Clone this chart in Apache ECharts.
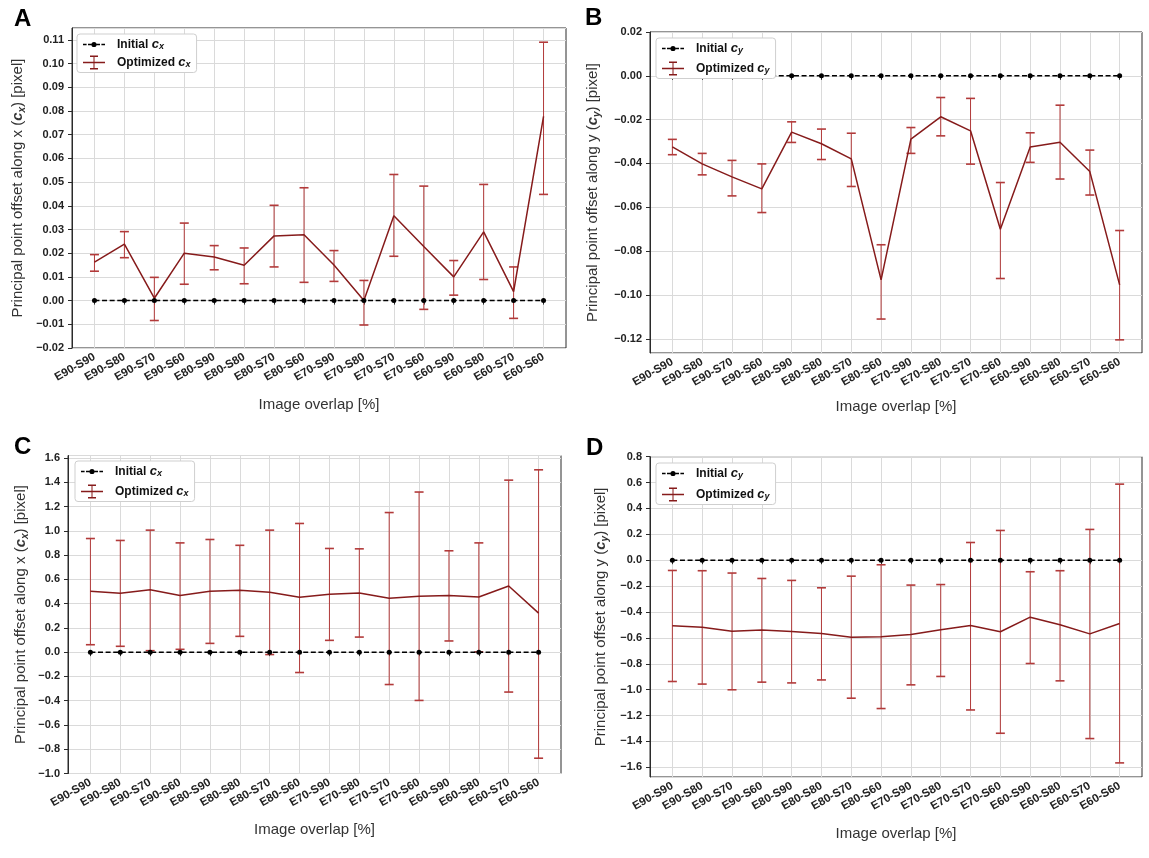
<!DOCTYPE html>
<html>
<head>
<meta charset="utf-8">
<script src="https://cdn.jsdelivr.net/npm/echarts@6/dist/echarts.min.js"></script>
<style>
html,body{margin:0;padding:0;background:#fff;}
#chart{width:1149px;height:858px;}
</style>
</head>
<body>
<div id="chart"></div>
<script>
// ---------- data ----------
const categories = ['E90-S90','E90-S80','E90-S70','E90-S60','E80-S90','E80-S80','E80-S70','E80-S60',
                    'E70-S90','E70-S80','E70-S70','E70-S60','E60-S90','E60-S80','E60-S70','E60-S60'];

const initialCx = [0,0,0,0,0,0,0,0,0,0,0,0,0,0,0,0];
const initialCy = [0,0,0,0,0,0,0,0,0,0,0,0,0,0,0,0];

// Panel A : optimized cx (small offsets)
const optCxA  = [0.0162,0.0238,0.0010,0.0200,0.0184,0.0149,0.0273,0.0278,0.0150,0.0000,0.0358,0.0228,0.0100,0.0290,0.0038,0.0777];
const lowCxA  = [0.0124,0.0181,-0.0084,0.0069,0.0130,0.0071,0.0142,0.0077,0.0081,-0.0103,0.0187,-0.0037,0.0023,0.0089,-0.0075,0.0448];
const highCxA = [0.0194,0.0291,0.0098,0.0327,0.0232,0.0222,0.0402,0.0476,0.0211,0.0085,0.0532,0.0483,0.0169,0.0490,0.0142,0.1090];

// Panel B : optimized cy (small offsets)
const optCyB  = [-0.0324,-0.0402,-0.0461,-0.0516,-0.0257,-0.0310,-0.0379,-0.0931,-0.0289,-0.0187,-0.0251,-0.0700,-0.0325,-0.0303,-0.0437,-0.0954];
const lowCyB  = [-0.0360,-0.0452,-0.0548,-0.0624,-0.0304,-0.0382,-0.0505,-0.1110,-0.0354,-0.0274,-0.0403,-0.0925,-0.0395,-0.0471,-0.0544,-0.1205];
const highCyB = [-0.0290,-0.0354,-0.0386,-0.0402,-0.0210,-0.0243,-0.0262,-0.0771,-0.0236,-0.0099,-0.0103,-0.0487,-0.0260,-0.0134,-0.0339,-0.0706];

// Panel C : optimized cx (large offsets)
const optCxC  = [0.501,0.485,0.513,0.466,0.501,0.510,0.493,0.452,0.477,0.488,0.444,0.460,0.467,0.454,0.545,0.321];
const lowCxC  = [0.061,0.048,0.012,0.023,0.072,0.130,-0.020,-0.168,0.097,0.124,-0.267,-0.398,0.092,0.002,-0.329,-0.874];
const highCxC = [0.936,0.920,1.005,0.900,0.928,0.880,1.005,1.060,0.854,0.851,1.150,1.319,0.835,0.900,1.417,1.502];

// Panel D : optimized cy (large offsets)
const optCyD  = [-0.507,-0.517,-0.548,-0.540,-0.551,-0.566,-0.595,-0.592,-0.574,-0.537,-0.504,-0.553,-0.440,-0.499,-0.569,-0.489];
const lowCyD  = [-0.937,-0.957,-1.001,-0.942,-0.948,-0.925,-1.066,-1.146,-0.963,-0.898,-1.157,-1.337,-0.798,-0.932,-1.378,-1.566];
const highCyD = [-0.079,-0.081,-0.099,-0.141,-0.156,-0.213,-0.123,-0.035,-0.192,-0.188,0.137,0.230,-0.089,-0.081,0.238,0.588];

// ---------- style ----------
const FONT = '"Liberation Sans", Arial, Helvetica, sans-serif';
const LINE_RED = '#861b1b';
const ERR_RED = '#b23a3a';
const GRID_GRAY = '#dadada';

const ICON_INIT = 'path://M0,6.3H3.6V7.7H0Z M5,6.3H8.4V7.7H5Z M13.6,7A2.6,2.6 0 1 1 8.4,7A2.6,2.6 0 1 1 13.6,7Z M13.6,6.3H17V7.7H13.6Z M18.4,6.3H22V7.7H18.4Z';
const ICON_OPT  = 'path://M0,6.3H22V7.7H0Z M10.5,0.8H11.5V13.2H10.5Z M7,0H15V1.4H7Z M7,12.6H15V14H7Z';

const panels = [
  {key:'A', axis:'x', opt:optCxA, low:lowCxA, high:highCxA, init:initialCx,
   left:72, top:28, width:494, height:320, min:-0.02, max:0.115, step:0.01, dec:2,
   hideMin:false, hideMax:true, yGap:45, xGap:49, title:{left:9, top:2},
   legend:{left:77, top:34, gap:4}},
  {key:'B', axis:'y', opt:optCyB, low:lowCyB, high:highCyB, init:initialCy,
   left:650, top:32, width:492, height:321, min:-0.1265, max:0.02, step:0.02, dec:2,
   hideMin:true, hideMax:false, yGap:48, xGap:46, title:{left:580, top:1},
   legend:{left:656, top:38, gap:6}},
  {key:'C', axis:'x', opt:optCxC, low:lowCxC, high:highCxC, init:initialCx,
   left:68, top:455.5, width:493, height:318, min:-1.0, max:1.62, step:0.2, dec:1,
   hideMin:false, hideMax:true, yGap:38, xGap:49, title:{left:9, top:430},
   legend:{left:75, top:461, gap:6}},
  {key:'D', axis:'y', opt:optCyD, low:lowCyD, high:highCyD, init:initialCy,
   left:650, top:456.7, width:492, height:320.3, min:-1.675, max:0.8, step:0.2, dec:1,
   hideMin:true, hideMax:false, yGap:40, xGap:49, title:{left:581, top:431},
   legend:{left:656, top:463, gap:7}}
];

const grids = [], xAxes = [], yAxes = [], series = [], legends = [], titles = [];
const legendText = {};

function fmt(dec){
  return function(v){
    if (Math.abs(v) < 1e-9) v = 0;
    return (v < 0 ? '\u2212' : '') + Math.abs(v).toFixed(dec);
  };
}

panels.forEach(function(p, k){
  const og = 2*k, ig = 2*k + 1;
  const stepPx = p.width / 16.5;
  const inLeft = p.left + 0.75*stepPx;
  const inWidth = p.width - 1.5*stepPx;

  titles.push({text:p.key, left:p.title.left, top:p.title.top,
    textStyle:{fontFamily:FONT, fontSize:24, fontWeight:'bold', color:'#000'}});

  grids.push({left:p.left, top:p.top, width:p.width, height:p.height, show:true,
    borderColor:'#2b2b2b', borderWidth:1, backgroundColor:'transparent', containLabel:false});
  grids.push({left:inLeft, top:p.top, width:inWidth, height:p.height, show:false, containLabel:false});

  // outer axes (frame, y ticks, horizontal grid)
  xAxes.push({gridIndex:og, type:'value', min:0, max:1, show:false});
  yAxes.push({gridIndex:og, type:'value', min:p.min, max:p.max, minInterval:p.step, maxInterval:p.step,
    splitNumber:20,
    name:'Principal point offset along ' + p.axis + ' ({c|c}{s|' + p.axis + '}) [pixel]',
    nameLocation:'middle', nameGap:p.yGap,
    nameTextStyle:{fontFamily:FONT, fontSize:15, color:'#333', lineHeight:18,
      rich:{c:{fontFamily:FONT, fontSize:15, fontWeight:'bold', fontStyle:'italic', color:'#333', lineHeight:18},
            s:{fontFamily:FONT, fontSize:10, fontWeight:'bold', fontStyle:'italic', color:'#333', lineHeight:9, verticalAlign:'bottom'}}},
    axisLine:{show:true, lineStyle:{color:'#2b2b2b', width:1}},
    axisTick:{show:true, length:4, lineStyle:{color:'#2b2b2b'}},
    axisLabel:{fontFamily:FONT, fontSize:11, fontWeight:'bold', color:'#222', margin:8,
      showMinLabel:!p.hideMin, showMaxLabel:!p.hideMax, formatter:fmt(p.dec)},
    splitLine:{show:true, lineStyle:{color:GRID_GRAY, width:1}}
  });

  // inner axes (categories and data)
  xAxes.push({gridIndex:ig, type:'category', data:categories, boundaryGap:false,
    name:'Image overlap [%]', nameLocation:'middle', nameGap:p.xGap,
    nameTextStyle:{fontFamily:FONT, fontSize:15, color:'#333'},
    axisLine:{show:false},
    axisTick:{show:true, length:4, interval:0, lineStyle:{color:'#2b2b2b'}},
    axisLabel:{interval:0, rotate:30, fontFamily:FONT, fontSize:11.5, fontWeight:'bold', color:'#222', margin:8},
    splitLine:{show:true, interval:0, lineStyle:{color:GRID_GRAY, width:1}}
  });
  yAxes.push({gridIndex:ig, type:'value', min:p.min, max:p.max, show:false, splitLine:{show:false}});

  const nInit = p.key + '_init', nOpt = p.key + '_opt';
  legendText[nInit] = '{b|Initial }{c|c}{s|' + p.axis + '}';
  legendText[nOpt]  = '{b|Optimized }{c|c}{s|' + p.axis + '}';

  series.push({
    name:p.key + '_err', type:'custom', xAxisIndex:ig, yAxisIndex:ig, z:2,
    data:categories.map(function(c, i){ return [i, p.low[i], p.high[i]]; }),
    encode:{x:0, y:[1,2]},
    renderItem:function(params, api){
      const x = api.value(0);
      const a = api.coord([x, api.value(1)]);
      const b = api.coord([x, api.value(2)]);
      const hw = 4.5;
      const st = {stroke:ERR_RED, lineWidth:1};
      const cs = {stroke:ERR_RED, lineWidth:1.6};
      return {type:'group', children:[
        {type:'line', shape:{x1:a[0], y1:a[1], x2:b[0], y2:b[1]}, style:st},
        {type:'line', shape:{x1:a[0]-hw, y1:a[1], x2:a[0]+hw, y2:a[1]}, style:cs},
        {type:'line', shape:{x1:b[0]-hw, y1:b[1], x2:b[0]+hw, y2:b[1]}, style:cs}
      ]};
    }
  });
  series.push({
    name:nOpt, type:'line', xAxisIndex:ig, yAxisIndex:ig, z:3,
    data:p.opt, symbol:'none', color:LINE_RED,
    lineStyle:{color:LINE_RED, width:1.5}
  });
  series.push({
    name:nInit, type:'line', xAxisIndex:ig, yAxisIndex:ig, z:4,
    data:p.init, symbol:'circle', symbolSize:5, color:'#000',
    itemStyle:{color:'#000'},
    lineStyle:{color:'#000', width:1.5, type:[5,2.6]}
  });

  legends.push({
    z:20, zlevel:0,
    orient:'vertical', left:p.legend.left, top:p.legend.top,
    itemWidth:22, itemHeight:14, itemGap:p.legend.gap,
    padding:[4,6,3,6], backgroundColor:'#ffffff',
    borderColor:'#cfcfcf', borderWidth:1, borderRadius:3,
    selectedMode:false,
    data:[
      {name:nInit, icon:ICON_INIT, itemStyle:{color:'#000', borderWidth:0}},
      {name:nOpt, icon:ICON_OPT, itemStyle:{color:LINE_RED, borderWidth:0}}
    ],
    formatter:function(name){ return legendText[name]; },
    textStyle:{fontFamily:FONT, fontSize:12, color:'#111',
      rich:{b:{fontFamily:FONT, fontSize:12, fontWeight:'bold', color:'#111', padding:[0,0,0,7], lineHeight:14},
            c:{fontFamily:FONT, fontSize:13, fontWeight:'bold', fontStyle:'italic', color:'#111', lineHeight:14},
            s:{fontFamily:FONT, fontSize:9, fontWeight:'bold', fontStyle:'italic', color:'#111', lineHeight:8, verticalAlign:'bottom'}}}
  });
});

const chart = echarts.init(document.getElementById('chart'), null, {renderer:'canvas'});
chart.setOption({
  animation:false,
  backgroundColor:'#ffffff',
  textStyle:{fontFamily:FONT},
  title:titles,
  grid:grids,
  xAxis:xAxes,
  yAxis:yAxes,
  legend:legends,
  series:series
});
</script>
</body>
</html>
